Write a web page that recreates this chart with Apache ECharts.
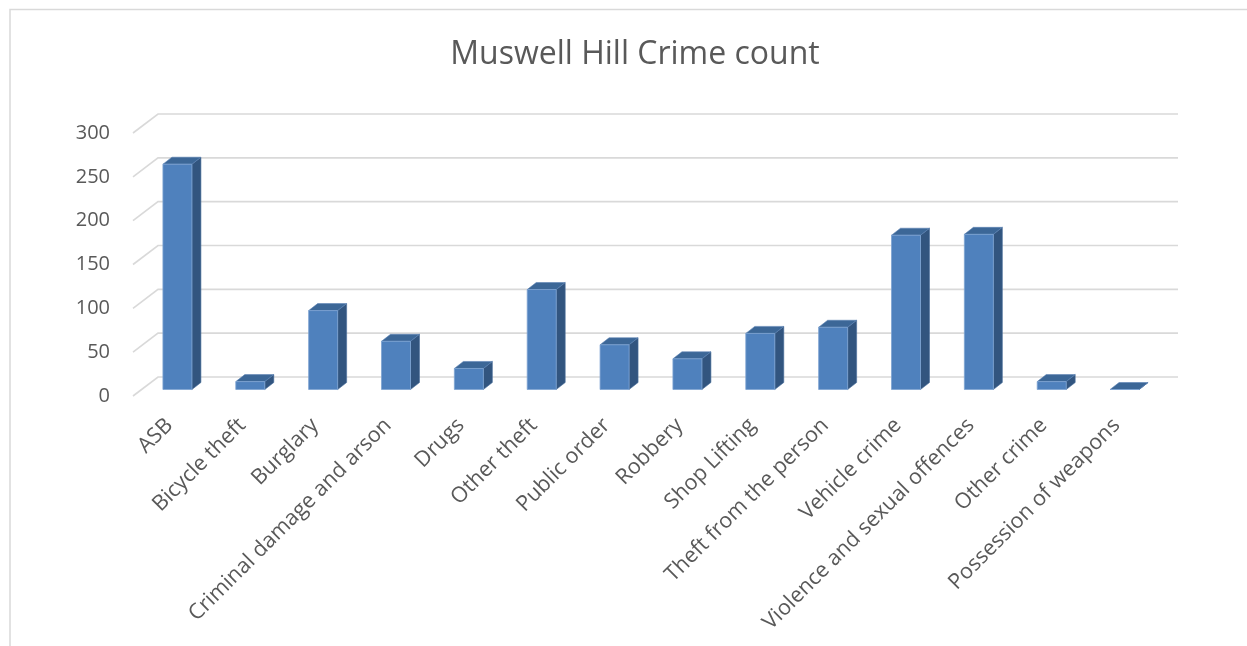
<!DOCTYPE html>
<html><head><meta charset="utf-8">
<script src="https://cdn.jsdelivr.net/npm/echarts@6/dist/echarts.min.js"></script>
<style>html,body{margin:0;padding:0;background:#fff}#c{width:1247px;height:646px}</style>
</head><body><div id="c"></div>
<script>
const categories = ["ASB", "Bicycle theft", "Burglary", "Criminal damage and arson", "Drugs", "Other theft", "Public order", "Robbery", "Shop Lifting", "Theft from the person", "Vehicle crime", "Violence and sexual offences", "Other crime", "Possession of weapons"];
const crimeCounts = [257, 9, 90, 55, 24, 114, 51, 35, 64, 71, 176, 177, 9, 0];
const yTicks = [0, 50, 100, 150, 200, 250, 300];

const FONT = '"Open Sans", sans-serif';
const TEXT = '#595959';
const DEPTH_X = 25, DEPTH_Y = -19;
const BAR_OFF_X = 8, BAR_OFF_Y = -6.5, BAR_DX = 9, BAR_DY = -7, BAR_W = 29;

const chart = echarts.init(document.getElementById('c'), null, {renderer: 'canvas'});

function gridRender(params, api) {
  const cs = params.coordSys;
  const y = api.coord([0, api.value(1)])[1];
  const x0 = cs.x, x1 = cs.x + cs.width;
  return {
    type: 'polyline',
    shape: {points: [[x0, y], [x0 + DEPTH_X, y + DEPTH_Y], [x1 + DEPTH_X, y + DEPTH_Y]]},
    style: {stroke: '#d9d9d9', lineWidth: 1.6, fill: null},
    silent: true
  };
}

function barRender(params, api) {
  const i = api.value(0), v = api.value(1);
  const c = api.coord([i, 0]);
  const h = api.size([0, v])[1];
  const cx = c[0] + BAR_OFF_X;
  const by = c[1] + BAR_OFF_Y;
  const l = cx - BAR_W / 2, r = cx + BAR_W / 2, ty = by - h;
  return {
    type: 'group',
    children: [
      {type: 'polygon', shape: {points: [[r, by], [r, ty], [r + BAR_DX, ty + BAR_DY], [r + BAR_DX, by + BAR_DY]]},
       style: {fill: '#32557f', stroke: '#4a6f9c', lineWidth: 0.6}},
      {type: 'polygon', shape: {points: [[l, ty], [r, ty], [r + BAR_DX, ty + BAR_DY], [l + BAR_DX, ty + BAR_DY]]},
       style: {fill: '#3c6797', stroke: '#5a82b3', lineWidth: 0.6}},
      {type: 'rect', shape: {x: l, y: ty, width: BAR_W, height: h},
       style: {fill: '#4f81bd', stroke: '#7ea3d2', lineWidth: 0.8}}
    ]
  };
}

const option = {
  animation: false,
  backgroundColor: '#fff',
  title: {
    text: 'Muswell Hill Crime count',
    left: 630, top: 34, textAlign: 'center',
    textStyle: {fontFamily: FONT, fontSize: 32, fontWeight: 'normal', color: TEXT}
  },
  grid: {left: 133, top: 133, width: 1020, height: 263},
  xAxis: {
    type: 'category', data: categories,
    axisLine: {show: false}, axisTick: {show: false}, splitLine: {show: false},
    axisLabel: {interval: 0, rotate: 45, margin: 26, fontFamily: FONT, fontSize: 21.5, color: TEXT}
  },
  yAxis: {
    type: 'value', min: 0, max: 300, interval: 50,
    axisLine: {show: false}, axisTick: {show: false}, splitLine: {show: false},
    axisLabel: {margin: 23, fontFamily: FONT, fontSize: 20, color: TEXT}
  },
  series: [
    {type: 'custom', clip: false, silent: true, z: 1, data: yTicks.map(v => [0, v]), renderItem: gridRender},
    {type: 'custom', clip: false, z: 2, data: crimeCounts.map((v, i) => [i, v]), renderItem: barRender}
  ],
  graphic: [
    {type: 'rect', silent: true, shape: {x: 10, y: 9.5, width: 1300, height: 700},
     style: {fill: null, stroke: '#d9d9d9', lineWidth: 1.5}}
  ]
};
chart.setOption(option);
</script>
</body></html>
